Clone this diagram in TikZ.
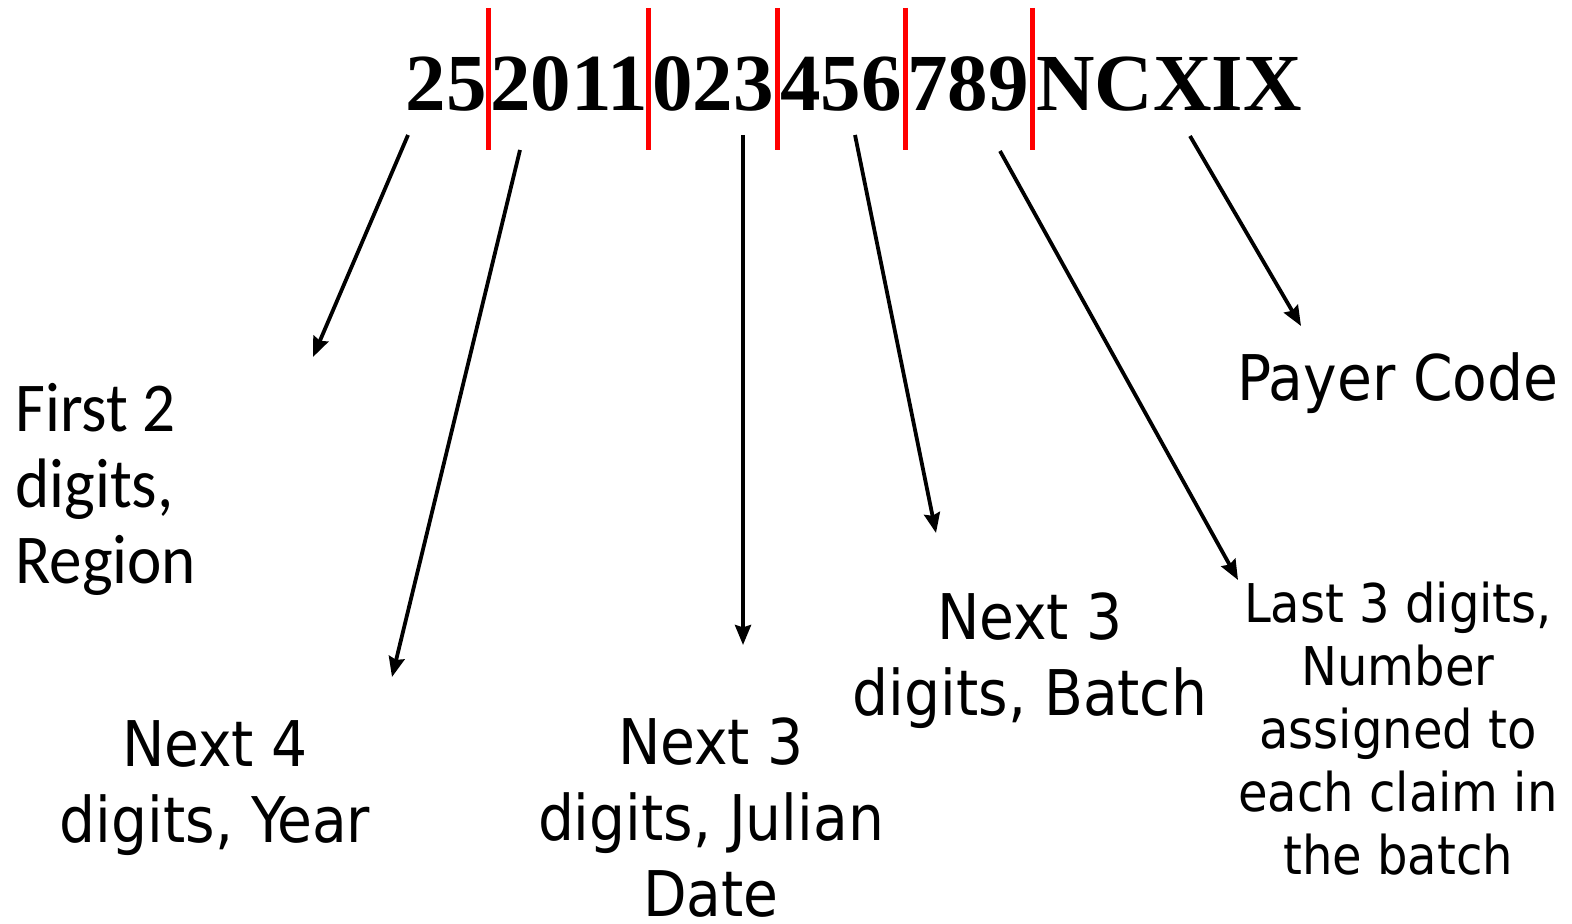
\documentclass[tikz,border=0pt]{standalone}
\usepackage{fontspec}
\usetikzlibrary{arrows.meta}
\newfontfamily\codefont{Liberation Serif}
\newfontfamily\labfont{DejaVu Sans Condensed}
\newfontfamily\regfont[FakeStretch=0.93]{Carlito}
\tikzset{
  grp/.style={font=\codefont\bfseries\fontsize{40.5}{44}\selectfont, inner sep=0pt, anchor=base},
  lab/.style={font=\labfont\fontsize{31.5}{38}\selectfont, inner sep=0pt, anchor=north, align=center},
  smalllab/.style={font=\labfont\fontsize{26.7}{31.5}\selectfont, inner sep=0pt, anchor=north, align=center},
  reglab/.style={font=\regfont\fontsize{35}{38}\selectfont, inner sep=0pt, anchor=north west, align=left},
  arr/.style={line width=1.9pt, -{Stealth[length=10pt,width=8pt,inset=1.2pt]}},
  redbar/.style={red, line width=2.5pt}
}
\begin{document}
\begin{tikzpicture}[x=0.5pt,y=-0.5pt]
\useasboundingbox (0,0) rectangle (1572,924);
% code groups
\node[grp] (g25) at (446,111) {25};
\node[grp] (g2011) at (569,111) {2011};
\node[grp] (g023) at (713,111) {023};
\node[grp] (g456) at (841,111) {456};
\node[grp] (g789) at (968,111) {789};
\node[grp] (gnc) at (1169,111) {NCXIX};
% red separators
\draw[redbar] (488,8) -- (488,150);
\draw[redbar] (648,8) -- (648,150);
\draw[redbar] (777,8) -- (777,150);
\draw[redbar] (905,8) -- (905,150);
\draw[redbar] (1032,8) -- (1032,150);
% labels
\node[reglab] (reg) at (15,383) {First 2\\digits,\\Region};
\node[lab] (year) at (215,720) {Next 4\\digits, Year};
\node[lab] (jul) at (711,717) {Next 3\\digits, Julian\\Date};
\node[lab] (batch) at (1030,592) {Next 3\\digits, Batch};
\node[smalllab] (num) at (1398,582) {Last 3 digits,\\Number\\assigned to\\each claim in\\the batch};
\node[lab] (payer) at (1398,352) {Payer Code};
% arrow ends
\coordinate (s1) at (408,135); \coordinate (e1) at (313,357);
\coordinate (s2) at (520,150); \coordinate (e2) at (392,677);
\coordinate (s3) at (743,135); \coordinate (e3) at (743,645);
\coordinate (s4) at (855,135); \coordinate (e4) at (936,533);
\coordinate (s5) at (1000,151); \coordinate (e5) at (1238,580);
\coordinate (s6) at (1190,136); \coordinate (e6) at (1301,326);
\draw[arr] (s1) -- (e1);
\draw[arr] (s2) -- (e2);
\draw[arr] (s3) -- (e3);
\draw[arr] (s4) -- (e4);
\draw[arr] (s5) -- (e5);
\draw[arr] (s6) -- (e6);
\end{tikzpicture}
\end{document}
